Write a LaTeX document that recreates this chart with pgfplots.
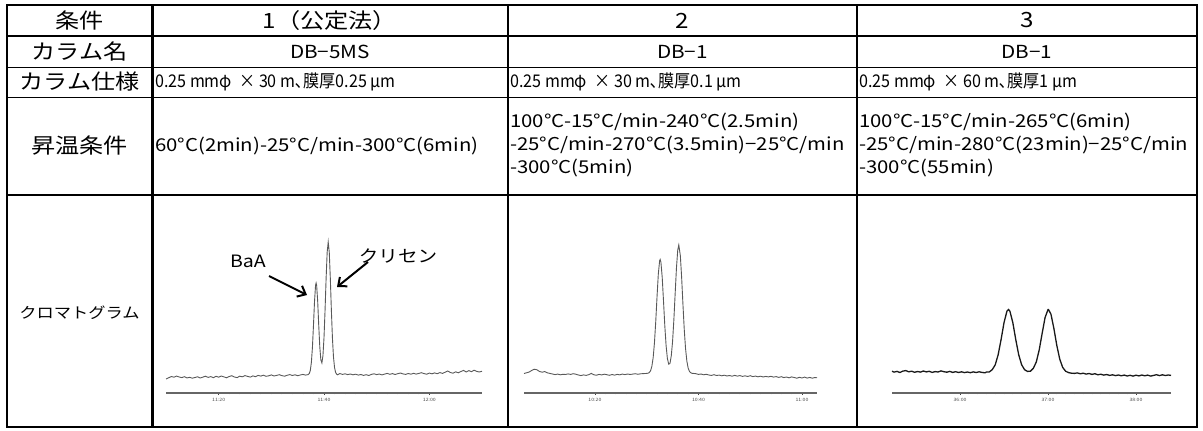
\documentclass[border=0pt]{standalone}
\usepackage{fontspec}
\setmainfont{Noto Sans CJK JP}[FakeStretch=1.15]
\usepackage{graphicx}
\usepackage{pgfplots}
\pgfplotsset{compat=1.18}
\usetikzlibrary{arrows.meta}
\newcommand\hdr{\fontsize{21bp}{23bp}\selectfont}
\newcommand\txt{\fontsize{17.7bp}{20bp}\selectfont}
\newcommand\spc[1]{\scalebox{0.8}[1]{\fontsize{17.5bp}{20bp}\selectfont #1}}
\pgfplotsset{chrom/.style={scale only axis, height=193bp, ymin=0, ymax=193,
  hide y axis, axis x line*=bottom, anchor=south west, clip=false,
  x axis line style={black!60, line width=1.2bp},
  major tick length=3bp, minor tick length=2.5bp, tick align=center,
  tick style={black!75, line width=0.8bp},
  minor x tick num=9,
  xticklabel style={font=\fontsize{4.5bp}{5bp}\selectfont, text=black!70}}}
\begin{document}
\begin{tikzpicture}[x=1bp,y=1bp]
\path[use as bounding box] (0,0) rectangle (1203,430);
% chromatogram 1
\begin{axis}[chrom, at={(166bp,37bp)}, width=316bp, xmin=670, xmax=730,
  xtick={680,700,720}, xticklabels={11:20,11:40,12:00}]
\addplot[black!65, line width=0.9bp, mark=none] coordinates {
(670.0,14.0)(670.5,15.2)(671.0,16.5)(671.5,15.8)(672.0,16.9)(672.5,16.0)(673.0,15.4)(673.5,16.3)(674.0,15.1)(674.5,15.7)(675.0,14.8)(675.5,15.5)(676.0,16.2)(676.5,15.0)(677.0,15.9)(677.5,16.8)(678.0,15.6)(678.5,16.4)(679.0,15.3)(679.5,16.7)(680.0,15.8)(680.5,17.0)(681.0,16.1)(681.5,15.2)(682.0,16.5)(682.5,17.3)(683.0,16.0)(683.5,15.4)(684.0,16.8)(684.5,16.2)(685.0,17.4)(685.5,16.6)(686.0,15.9)(686.5,17.1)(687.0,16.3)(687.5,17.6)(688.0,16.9)(688.5,17.8)(689.0,16.7)(689.5,17.2)(690.0,18.1)(690.5,17.0)(691.0,17.6)(691.5,18.3)(692.0,17.4)(692.5,16.8)(693.0,17.7)(693.5,18.4)(694.0,17.5)(694.5,18.2)(695.0,17.3)(695.5,18.0)(696.0,18.6)(696.5,17.9)
(697.0,18.4)(697.2,19.4)(697.4,22.6)(697.6,30.5)(697.8,45.4)(698.0,67.6)(698.2,91.7)(698.4,107.8)(698.5,110)(698.6,107.8)(698.8,91.7)(699.0,67.6)(699.2,46.2)(699.4,33.1)(699.6,30.1)(699.8,37.4)(700.0,55.4)(700.2,82.8)(700.4,114.6)(700.6,140.8)(700.8,151)(701.0,140.8)(701.2,114.6)(701.4,82.7)(701.6,55.0)(701.8,36.0)(702.0,25.5)(702.2,20.6)(702.4,18.8)(702.6,18.2)
(703.0,19.5)(703.5,18.6)(704.0,19.2)(704.5,18.4)(705.0,19.0)(705.5,18.2)(706.0,18.8)(706.5,17.9)(707.0,18.5)(707.5,17.6)(708.0,18.3)(708.5,17.5)(709.0,18.6)(709.5,19.2)(710.0,18.4)(710.5,19.0)(711.0,18.1)(711.5,18.9)(712.0,19.6)(712.5,18.7)(713.0,19.4)(713.5,18.5)(714.0,19.3)(714.5,20.0)(715.0,19.1)(715.5,18.6)(716.0,19.5)(716.5,18.8)(717.0,19.7)(717.5,18.9)(718.0,19.6)(718.5,20.3)(719.0,19.4)(719.5,18.8)(720.0,19.9)(720.5,19.2)(721.0,20.1)(721.5,19.3)(722.0,20.4)(722.5,19.6)(723.0,20.8)(723.5,22.0)(724.0,20.5)(724.5,19.8)(725.0,21.2)(725.5,20.2)(726.0,21.5)(726.5,22.6)(727.0,21.0)(727.5,22.4)(728.0,21.3)(728.5,22.8)(729.0,21.6)(729.5,21.0)(730.0,21.8)
};
\end{axis}
% chromatogram 2
\begin{axis}[chrom, at={(524bp,37bp)}, width=293bp, xmin=606.3, xmax=662.9,
  xtick={620,640,660}, xticklabels={10:20,10:40,11:00}]
\addplot[black!65, line width=0.9bp, mark=none] coordinates {
(606.3,19.5)(606.8,20.2)(607.3,21.0)(607.8,22.6)(608.3,23.8)(608.8,23.2)(609.3,21.5)(609.8,20.8)(610.3,21.4)(610.8,20.2)(611.3,19.6)(611.8,19.0)(612.3,18.4)(612.8,18.9)(613.3,18.2)(613.8,18.7)(614.3,18.5)(614.8,19.1)(615.3,18.6)(615.8,19.3)(616.3,18.8)(616.8,18.0)(617.3,17.4)(617.8,18.1)(618.3,17.6)(618.8,18.3)(619.3,19.6)(619.8,18.2)(620.3,17.8)(620.8,18.6)(621.3,18.1)(621.8,18.8)(622.3,18.3)(622.8,17.7)(623.3,18.5)(623.8,17.9)(624.3,18.6)(624.8,18.2)(625.3,18.9)(625.8,18.4)(626.3,19.0)(626.8,18.5)(627.3,18.9)(627.8,19.3)(628.3,18.7)(628.8,19.2)(629.3,19.4)(629.8,19.5)
(630.0,19.6)(630.25,19.8)(630.5,20.4)(630.75,22.3)(631.0,26.7)(631.25,35.4)(631.5,50.3)(631.75,71.7)(632.0,96.7)(632.25,119.4)(632.5,132.3)(632.6,133.5)(632.75,130.8)(633.0,115.4)(633.25,91.7)(633.5,67.1)(633.75,47.2)(634.0,34.4)(634.25,28.8)(634.5,29.7)(634.75,37.2)(635.0,51.7)(635.25,73.4)(635.5,99.6)(635.75,125.2)(636.0,143.1)(636.2,148.0)(636.5,137.3)(636.75,115.5)(637.0,88.8)(637.25,63.9)(637.5,44.7)(637.75,32.2)(638.0,25.1)(638.25,21.7)(638.5,20.3)(638.75,19.7)(639.0,19.6)
(639.5,19.3)(640.0,18.6)(640.5,19.0)(641.0,18.2)(641.5,18.7)(642.0,18.0)(642.5,17.6)(643.0,18.3)(643.5,17.5)(644.0,17.9)(644.5,17.2)(645.0,17.8)(645.5,17.0)(646.0,17.5)(646.5,16.8)(647.0,17.6)(647.5,16.9)(648.0,17.4)(648.5,16.6)(649.0,17.2)(649.5,16.5)(650.0,17.3)(650.5,16.4)(651.0,16.9)(651.5,16.2)(652.0,16.8)(652.5,16.0)(653.0,16.6)(653.5,16.1)(654.0,16.7)(654.5,15.9)(655.0,16.4)(655.5,15.6)(656.0,16.3)(656.5,15.4)(657.0,16.0)(657.5,15.2)(658.0,16.1)(658.5,15.5)(659.0,14.8)(659.5,15.7)(660.0,15.0)(660.5,15.9)(661.0,14.9)(661.5,15.6)(662.0,14.8)(662.5,15.5)(662.9,15.2)
};
\end{axis}
% chromatogram 3
\begin{axis}[chrom, at={(892bp,37bp)}, width=279bp, xmin=2113.6, xmax=2303.9,
  xtick={2160,2220,2280}, xticklabels={36:00,37:00,38:00}]
\addplot[black!90, line width=1.3bp, mark=none] coordinates {
(2113.6,21.8)(2115,20.9)(2117,21.6)(2119,20.5)(2121,21.9)(2123,22.4)(2125,21.2)(2127,21.8)(2129,20.7)(2131,21.5)(2133,20.9)(2135,22.0)(2137,21.1)(2139,21.7)(2141,20.6)(2143,21.4)(2145,21.0)(2147,22.1)(2149,21.3)(2151,20.8)(2153,21.6)(2155,20.6)(2157,21.3)(2159,20.5)(2161,21.2)(2163,20.4)(2165,21.0)(2167,20.3)(2169,21.1)(2171,20.5)(2173,21.2)(2175,20.6)(2177,20.2)
(2178,21.0)(2180,21.1)(2182,23.4)(2184,28.2)(2186,38.3)(2188,53.5)(2190,70.4)(2192,81.9)(2193,83.5)(2194,81.9)(2196,70.4)(2198,53.5)(2200,38.3)(2202,28.3)(2204,23.3)(2206,21.6)(2208,21.8)(2210,24.7)(2212,31.0)(2214,43.1)(2216,59.6)(2218,75.5)(2220,83.4)(2220.3,83.5)(2222,78.9)(2224,64.6)(2226,47.6)(2228,33.9)(2230,25.6)(2232,21.8)(2234,20.4)(2236,19.8)
(2238,19.6)(2240,20.1)(2242,19.2)(2244,19.8)(2246,18.9)(2248,19.5)(2250,18.6)(2252,19.3)(2254,18.2)(2256,18.8)(2258,17.9)(2260,18.5)(2262,17.6)(2264,18.2)(2266,17.4)(2268,18.0)(2270,17.2)(2272,17.9)(2274,17.0)(2276,17.7)(2278,16.9)(2280,17.8)(2282,17.1)(2284,18.0)(2286,17.2)(2288,17.9)(2290,16.9)(2292,17.6)(2294,18.3)(2296,17.4)(2298,18.2)(2300,17.5)(2302,18.0)(2303.9,17.6)
};
\end{axis}
% table lines
\draw[line width=1bp] (7,363) -- (1197,363);
\draw[line width=1bp] (7,333) -- (1197,333);
\draw[line width=1.8bp] (7,235) -- (1197,235);
\draw[line width=2.7bp] (7,394) -- (1197,394);
\draw[line width=3bp] (152,425) -- (152,3);
\draw[line width=2bp] (508,425) -- (508,3);
\draw[line width=2bp] (857,425) -- (857,3);
\draw[line width=2.5bp] (7,3) rectangle (1197,425);
% row 1
\node[inner sep=0] at (79.5,409.5) {\hdr 条件};
\node[inner sep=0] at (330,409.5) {\hdr 1（公定法）};
\node[inner sep=0] at (682.5,409.5) {\hdr 2};
\node[inner sep=0] at (1027,409.5) {\hdr 3};
% row 2
\node[inner sep=0] at (79.5,378.5) {\hdr カラム名};
\node[inner sep=0] at (330,378.5) {\fontsize{18bp}{20bp}\selectfont DB−5MS};
\node[inner sep=0] at (682.5,378.5) {\fontsize{18bp}{20bp}\selectfont DB−1};
\node[inner sep=0] at (1027,378.5) {\fontsize{18bp}{20bp}\selectfont DB−1};
% row 3
\node[inner sep=0] at (79.5,348) {\hdr カラム仕様};
\node[inner sep=0, anchor=west] at (155,348) {\spc{0.25 mmφ\ \ × 30 m､膜厚0.25 μm}};
\node[inner sep=0, anchor=west] at (510,348) {\spc{0.25 mmφ\ \ × 30 m､膜厚0.1 μm}};
\node[inner sep=0, anchor=west] at (859,348) {\spc{0.25 mmφ\ \ × 60 m､膜厚1 μm}};
% row 4
\node[inner sep=0] at (79.5,284) {\hdr 昇温条件};
\node[inner sep=0, anchor=west] at (155,284) {\txt 60°C(2min)-25°C/min-300°C(6min)};
\node[inner sep=0, anchor=west] at (510,308) {\txt 100°C-15°C/min-240°C(2.5min)};
\node[inner sep=0, anchor=west] at (510,285) {\txt -25°C/min-270°C(3.5min)−25°C/min};
\node[inner sep=0, anchor=west] at (510,262) {\txt -300°C(5min)};
\node[inner sep=0, anchor=west] at (859,308) {\txt 100°C-15°C/min-265°C(6min)};
\node[inner sep=0, anchor=west] at (859,285) {\txt -25°C/min-280°C(23min)−25°C/min};
\node[inner sep=0, anchor=west] at (859,262) {\txt -300°C(55min)};
% row 5
\node[inner sep=0] at (79.5,117) {\fontsize{15bp}{18bp}\selectfont クロマトグラム};
\node[inner sep=0] at (248,169) {\fontsize{17bp}{20bp}\selectfont BaA};
\node[inner sep=0] at (398,174) {\fontsize{17bp}{20bp}\selectfont クリセン};
\draw[line width=2bp, -{Straight Barb[length=7bp,width=12bp]}] (269,154) -- (307,135);
\draw[line width=2bp, -{Straight Barb[length=7bp,width=12bp]}] (368,168) -- (337,143);
\end{tikzpicture}
\end{document}
